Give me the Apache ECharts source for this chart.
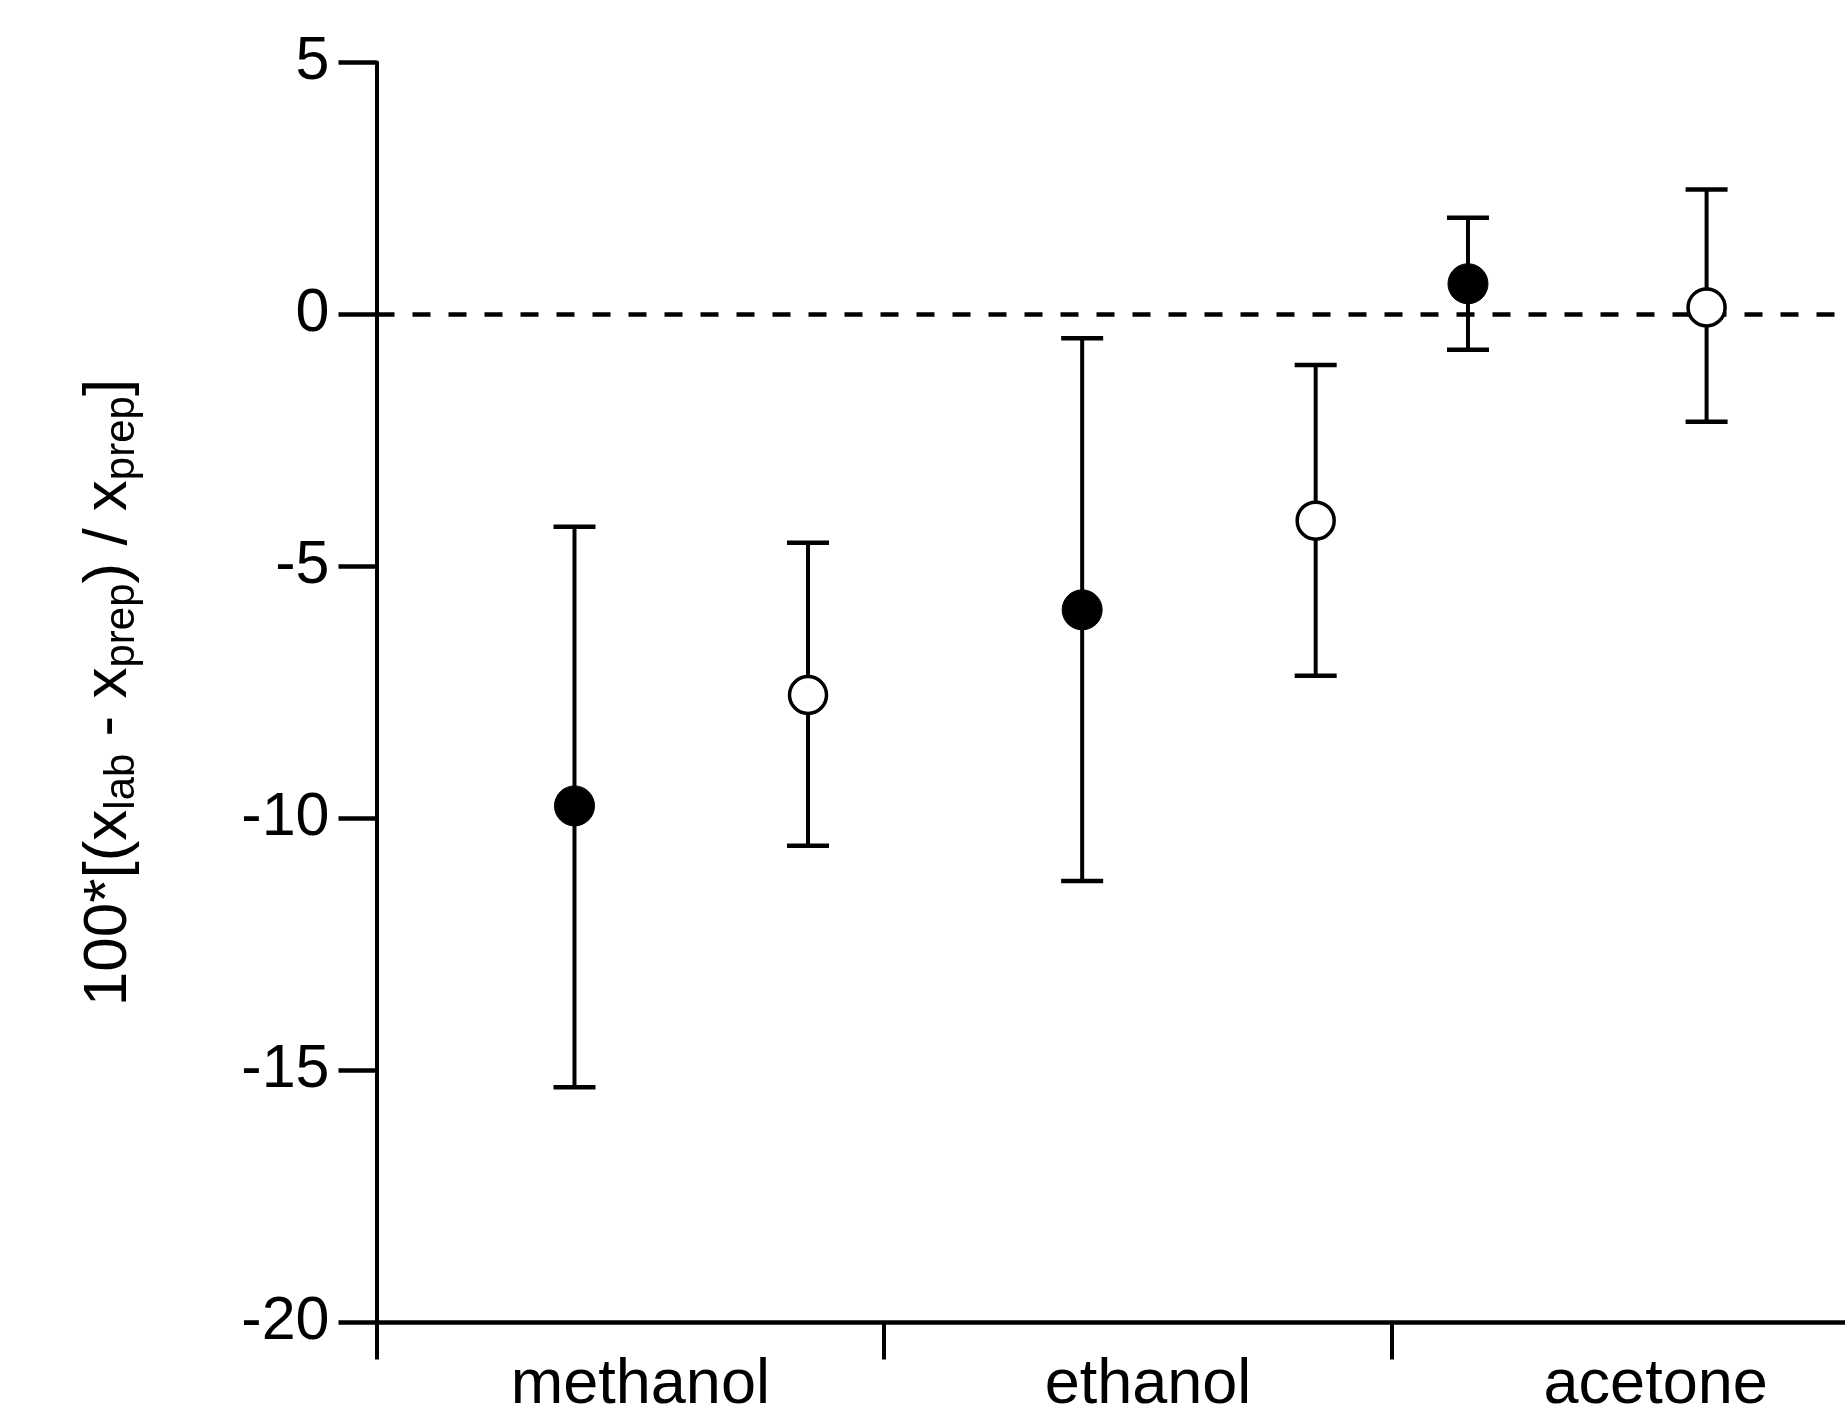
<!DOCTYPE html>
<html>
<head>
<meta charset="utf-8">
<script src="https://cdn.jsdelivr.net/npm/echarts@6/dist/echarts.min.js"></script>
<style>html,body{margin:0;padding:0;background:#fff;}#c{width:1845px;height:1415px;}</style>
</head>
<body>
<div id="c"></div>
<script>
const categories = ['methanol', 'ethanol', 'acetone'];
const yMin = -20, yMax = 5, yStep = 5;

// filled circles
const filledX = [0.39, 1.39, 2.15];
const filledMean = [-9.75, -5.86, 0.61];
const filledLow = [-15.33, -11.24, -0.70];
const filledHigh = [-4.21, -0.47, 1.92];
// open circles
const openX = [0.85, 1.85, 2.62];
const openMean = [-7.55, -4.09, 0.14];
const openLow = [-10.54, -7.17, -2.13];
const openHigh = [-4.53, -1.00, 2.48];

const FONT = 'Liberation Sans, Arial, sans-serif';

function errData(xs, lo, hi) { return xs.map((x, i) => [x, lo[i], hi[i]]); }
function ptData(xs, m) { return xs.map((x, i) => [x, m[i]]); }

function renderErr(params, api) {
  const x = api.value(0);
  const lo = api.coord([x, api.value(1)]);
  const hi = api.coord([x, api.value(2)]);
  const hw = 21;
  const vs = { stroke: '#000', lineWidth: 4 };
  const hs = { stroke: '#000', lineWidth: 4.5 };
  return {
    type: 'group',
    children: [
      { type: 'line', shape: { x1: lo[0], y1: lo[1], x2: hi[0], y2: hi[1] }, style: vs },
      { type: 'line', shape: { x1: lo[0] - hw, y1: lo[1], x2: lo[0] + hw, y2: lo[1] }, style: hs },
      { type: 'line', shape: { x1: hi[0] - hw, y1: hi[1], x2: hi[0] + hw, y2: hi[1] }, style: hs }
    ]
  };
}

const chart = echarts.init(document.getElementById('c'), null, { renderer: 'canvas' });
chart.setOption({
  backgroundColor: '#fff',
  animation: false,
  grid: { left: 376.5, top: 62.5, width: 1523, height: 1260, containLabel: false, outerBoundsMode: 'none' },
  xAxis: [
    {
      type: 'category', data: categories, boundaryGap: true, position: 'bottom',
      axisLine: { onZero: false, lineStyle: { color: '#000', width: 4.5 } },
      axisTick: { show: true, inside: false, length: 37, lineStyle: { color: '#000', width: 4 } },
      axisLabel: { color: '#000', fontSize: 63, fontFamily: FONT, margin: 32, verticalAlign: 'top', padding: [0, 0, 0, 20] },
      splitLine: { show: false }
    },
    { type: 'value', min: 0, max: 3, show: false, position: 'top', axisLine: { onZero: false } }
  ],
  yAxis: {
    type: 'value', min: yMin, max: yMax, interval: yStep,
    name: '{m|100*[(x}{s|lab}{m| - x}{s|prep}{m|) / x}{s|prep}{m|]}',
    nameLocation: 'middle', nameGap: 233, nameRotate: 90,
    nameTextStyle: {
      color: '#000', fontFamily: FONT,
      rich: {
        m: { fontSize: 62, fontFamily: FONT, color: '#000', lineHeight: 70, verticalAlign: 'middle' },
        s: { fontSize: 42, fontFamily: FONT, color: '#000', lineHeight: 42, verticalAlign: 'bottom' }
      }
    },
    axisLine: { show: true, onZero: false, lineStyle: { color: '#000', width: 4 } },
    axisTick: { show: true, inside: false, length: 38, lineStyle: { color: '#000', width: 4.5 } },
    axisLabel: { color: '#000', fontSize: 61, fontFamily: FONT, margin: 47, padding: [14, 0, 0, 0] },
    splitLine: { show: false }
  },
  series: [
    {
      type: 'custom', xAxisIndex: 1, renderItem: renderErr, z: 3,
      data: errData(filledX, filledLow, filledHigh)
    },
    {
      type: 'custom', xAxisIndex: 1, renderItem: renderErr, z: 3,
      data: errData(openX, openLow, openHigh)
    },
    {
      type: 'scatter', xAxisIndex: 1, symbol: 'circle', symbolSize: 40, z: 5,
      itemStyle: { color: '#000', borderColor: '#000', borderWidth: 1, opacity: 1 },
      data: ptData(filledX, filledMean),
      markLine: {
        silent: true, symbol: 'none', label: { show: false }, z: 1,
        lineStyle: { color: '#000', width: 4.5, type: [18, 18] },
        data: [{ yAxis: 0 }]
      }
    },
    {
      type: 'scatter', xAxisIndex: 1, symbol: 'circle', symbolSize: 37, z: 5,
      itemStyle: { color: '#fff', borderColor: '#000', borderWidth: 3.5, opacity: 1 },
      data: ptData(openX, openMean)
    }
  ]
});
</script>
</body>
</html>
